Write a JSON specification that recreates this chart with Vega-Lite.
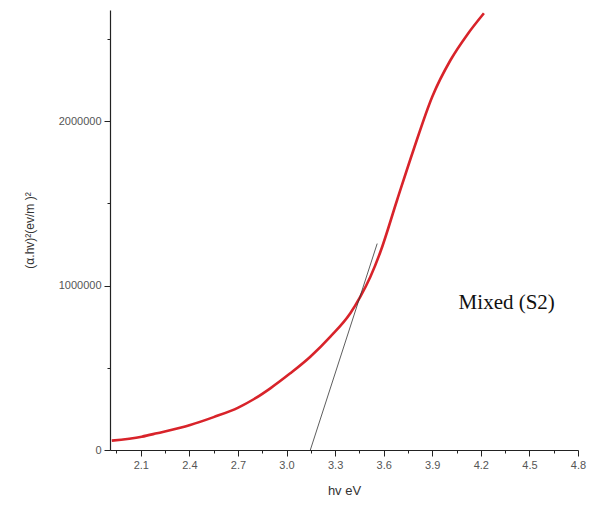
{
  "$schema": "https://vega.github.io/schema/vega-lite/v6.json",
  "width": 468,
  "height": 440,
  "autosize": "none",
  "padding": {"left": 110, "top": 10, "right": 24, "bottom": 65},
  "background": "white",
  "config": {"view": {"stroke": null}},
  "datasets": {
    "curve": [
      {"hv": 1.921, "y": 57000},
      {"hv": 2.106, "y": 81000},
      {"hv": 2.2, "y": 102000},
      {"hv": 2.405, "y": 152000},
      {"hv": 2.55, "y": 200000},
      {"hv": 2.702, "y": 258000},
      {"hv": 2.8, "y": 310000},
      {"hv": 2.9, "y": 375000},
      {"hv": 3.023, "y": 466000},
      {"hv": 3.147, "y": 567000},
      {"hv": 3.271, "y": 689000},
      {"hv": 3.394, "y": 831000},
      {"hv": 3.456, "y": 932000},
      {"hv": 3.518, "y": 1053000},
      {"hv": 3.58, "y": 1205000},
      {"hv": 3.683, "y": 1520000},
      {"hv": 3.784, "y": 1824000},
      {"hv": 3.9, "y": 2148000},
      {"hv": 4.013, "y": 2371000},
      {"hv": 4.116, "y": 2525000},
      {"hv": 4.219, "y": 2655000}
    ],
    "tangent": [
      {"hv": 3.147, "y": 0},
      {"hv": 3.56, "y": 1255000}
    ],
    "label": [
      {"hv": 4.36, "y": 894000, "text": "Mixed (S2)"}
    ]
  },
  "layer": [
    {
      "data": {"name": "curve"},
      "mark": {"type": "line", "color": "#d8232a", "strokeWidth": 2.6, "interpolate": "monotone", "clip": true},
      "encoding": {
        "x": {
          "field": "hv", "type": "quantitative",
          "scale": {"domain": [1.91, 4.8], "nice": false, "zero": false},
          "axis": {
            "title": "hv eV",
            "titleFont": "Liberation Sans", "titleFontSize": 13, "titleFontWeight": "normal", "titleColor": "#333",
            "titlePadding": 14,
            "values": [1.95, 2.1, 2.25, 2.4, 2.55, 2.7, 2.85, 3.0, 3.15, 3.3, 3.45, 3.6, 3.75, 3.9, 4.05, 4.2, 4.35, 4.5, 4.65, 4.8],
            "tickCount": 40,
            "format": ".2f",
            "labelExpr": "indexof(['2.10','2.40','2.70','3.00','3.30','3.60','3.90','4.20','4.50','4.80'], datum.label) >= 0 ? format(datum.value, '.1f') : ''",
            "labelFont": "Liberation Sans", "labelFontSize": 11, "labelColor": "#555",
            "labelPadding": 3,
            "grid": false,
            "domainColor": "#222", "domainWidth": 1.2,
            "tickColor": "#222",
            "tickSize": {"condition": {"test": "indexof(['2.10','2.40','2.70','3.00','3.30','3.60','3.90','4.20','4.50','4.80'], format(datum.value, '.2f')) >= 0", "value": 6}, "value": 3},
            "labelFlush": false,
            "labelOverlap": false
          }
        },
        "y": {
          "field": "y", "type": "quantitative",
          "scale": {"domain": [0, 2675000], "nice": false},
          "axis": {
            "title": "(α.hv)²(ev/m )²",
            "titleFont": "Liberation Sans", "titleFontSize": 12, "titleFontWeight": "normal", "titleColor": "#333",
            "titlePadding": 22,
            "values": [0, 500000, 1000000, 1500000, 2000000, 2500000],
            "tickCount": 20,
            "format": "d",
            "labelExpr": "datum.value % 1000000 == 0 ? datum.label : ''",
            "labelFont": "Liberation Sans", "labelFontSize": 11, "labelColor": "#555",
            "labelPadding": 3,
            "grid": false,
            "domainColor": "#222", "domainWidth": 1.2,
            "tickColor": "#222",
            "tickSize": {"condition": {"test": "datum.value % 1000000 == 0", "value": 6}, "value": 3},
            "labelOverlap": false
          }
        }
      }
    },
    {
      "data": {"name": "tangent"},
      "mark": {"type": "line", "color": "#333", "strokeWidth": 0.8},
      "encoding": {
        "x": {"field": "hv", "type": "quantitative"},
        "y": {"field": "y", "type": "quantitative"}
      }
    },
    {
      "data": {"name": "label"},
      "mark": {"type": "text", "font": "Liberation Serif", "fontSize": 21, "color": "#111", "align": "center", "baseline": "middle"},
      "encoding": {
        "x": {"field": "hv", "type": "quantitative"},
        "y": {"field": "y", "type": "quantitative"},
        "text": {"field": "text"}
      }
    }
  ]
}
